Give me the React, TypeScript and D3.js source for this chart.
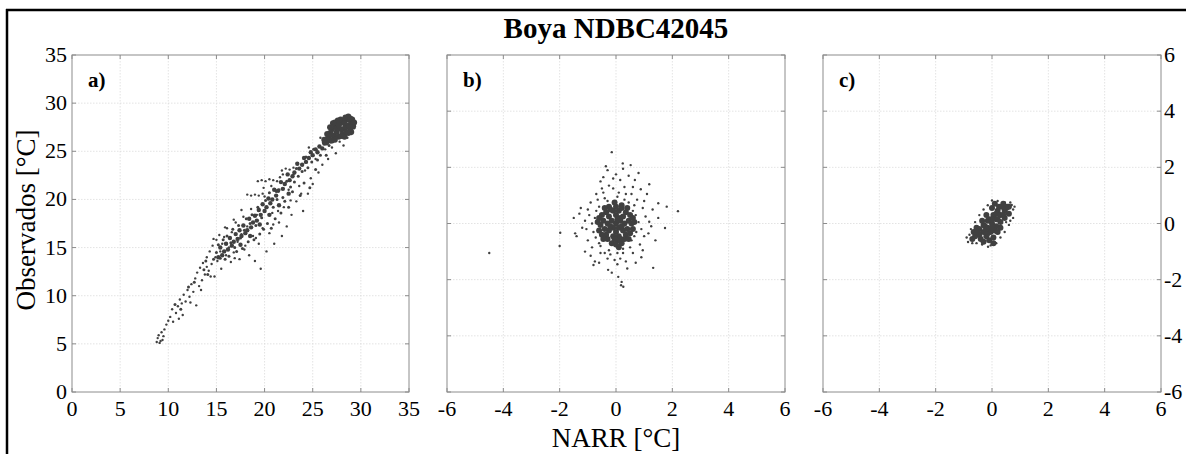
import React from "react";
import * as d3 from "d3";

const title = "Boya NDBC42045";
const xLabel = "NARR [°C]";
const yLabel = "Observados [°C]";
const panelLabels = ["a)", "b)", "c)"];
const ticksA = [0, 5, 10, 15, 20, 25, 30, 35];
const ticksBC = [-6, -4, -2, 0, 2, 4, 6];

const sparseA: [number, number][] = [
  [8.8,5.2],[8.9,5.6],[9.0,5.9],[9.2,5.3],[9.4,5.4],[9.5,5.8],[9.1,5.1],[9.3,6.2],[9.6,6.5],[9.8,7.0],[10.0,7.4],[10.2,7.8],[10.5,7.3],[10.4,8.6],[10.8,8.2],[11.0,8.9],[11.2,9.6],[11.5,8.0],[11.4,9.2],[11.6,10.1],[11.8,9.4],[12.0,10.6],[12.2,9.9],[12.4,11.2],[12.6,10.4],[12.8,11.8],[12.9,9.0],[13.0,12.4],[13.2,11.0],[13.3,12.9],[13.5,11.6],[13.6,13.4],[13.8,12.2],[14.0,13.0],[14.0,14.0],[14.2,12.6],[14.3,14.6],[14.5,13.3],[14.6,15.2],[14.8,12.0],[14.9,14.0],[15.0,15.8],[15.1,13.6],[15.3,16.3],[15.4,14.6],[15.5,12.8],[15.6,15.4],[15.8,16.1],[16.0,14.2],[16.1,17.0],[16.3,15.0],[16.5,13.5],[16.6,16.6],[16.8,14.5],[17.0,17.6],[17.2,15.6],[17.4,13.8],[17.6,16.4],[17.8,18.2],[18.0,15.2],[18.2,17.2],[18.4,14.2],[18.6,19.0],[18.8,16.2],[19.0,13.6],[19.2,18.4],[19.4,15.4],[19.6,12.8],[19.8,17.0],[20.0,20.3],[20.2,14.6],[20.5,16.5],[20.8,18.6],[21.0,15.4],[21.2,20.8],[21.5,17.6],[21.8,16.2],[22.0,19.2],[22.3,17.2],[22.5,21.0],[22.8,18.4],[23.0,22.6],[23.3,19.8],[23.6,21.4],[24.0,18.8],[24.2,23.0],[24.5,20.6],[24.8,22.2],[25.0,21.6],[25.3,24.2],[25.6,22.8],[26.0,23.6],[26.3,25.2],[26.6,24.2],[27.0,25.4],[27.4,24.8],[27.8,26.0],[28.2,25.6],[28.6,26.4],[29.0,26.8],[29.3,27.4],
  [18.2,20.5],[18.6,20.4],[19.0,20.5],[19.4,20.4],[19.8,20.6],[19.3,21.9],[19.7,22.0],[20.1,21.9],[20.5,22.1],[20.9,22.0],[21.3,21.9],[21.6,22.3],[21.9,22.6],[21.8,23.0],[22.2,23.2],[22.6,23.1],[23.0,23.3],[16.9,13.9],[17.9,14.8],[19.1,16.0],[20.9,17.4],[21.4,18.8],[23.8,20.6],[22.7,19.9],[14.4,12.0],[13.4,10.6],[12.3,9.3],[11.1,7.6],[15.9,17.1],[14.7,15.9],[16.8,17.9],[17.6,18.9],[19.9,21.2],[20.7,21.4],[24.6,25.4],[25.8,26.4],[26.9,27.6]
];

const midA: [number, number][] = [
  [15.0,14.5],[15.2,15.3],[15.4,13.9],[15.7,15.8],[15.9,13.8],[16.1,16.2],[16.3,14.1],[16.5,15.5],[16.7,16.9],[16.9,15.0],[17.1,14.6],[17.3,17.3],[17.5,16.0],[17.7,14.9],[17.9,16.8],[18.1,18.0],[18.3,15.6],[18.5,17.5],[18.7,18.4],[18.9,15.8],[19.1,17.3],[19.3,19.2],[19.5,16.4],[19.7,18.1],[19.9,16.9],[20.1,19.9],[20.3,17.5],[20.5,20.7],[20.7,17.0],[20.9,19.2],[21.1,18.0],[21.3,20.0],[21.5,21.0],[21.7,18.6],[21.9,20.2],[22.1,19.8],[22.3,21.9],[22.5,19.2],[22.7,21.3],[22.9,20.8],[23.1,21.8],[23.3,23.2],[23.5,22.4],[23.7,20.4],[23.9,22.9],[24.1,21.7],[24.3,24.4],[24.5,23.3],[24.7,21.2],[24.9,23.9],[25.1,25.2],[25.3,23.1],[25.5,24.1],[25.8,24.6],[26.1,25.9],[26.4,24.6],[26.7,25.6],[27.1,26.0],[13.9,13.6],[14.1,12.2],[14.7,13.8],[13.7,12.7],[12.7,11.4],[12.1,10.9],[11.3,8.6],[10.7,9.1]
];

const topA: [number, number][] = [
  [26.6,26.4],[26.8,26.9],[27.0,27.3],[27.2,26.6],[27.4,27.6],[27.5,27.0],[27.7,26.5],[27.8,27.9],[28.0,27.3],[28.1,26.8],[28.2,28.1],[28.4,27.5],[28.5,27.0],[28.6,28.3],[28.8,27.7],[28.9,27.2],[29.0,28.0],[29.2,27.6],[27.3,28.0],[27.9,28.3],[26.9,26.1],[26.4,25.9],[28.3,26.5],[29.1,28.3],[28.7,28.6],[27.6,27.4],
  [26.2,26.2],[26.5,26.8],[27.1,27.9],[27.6,28.2],[28.4,28.5],[29.0,27.0],[28.0,26.6],[27.3,26.2],[28.7,26.9],[27.0,26.7],[27.7,27.7],[28.3,27.9],[28.9,28.4],[29.3,28.0],[26.8,27.5]
];

const coreA: [number, number][] = [
  [26.2,25.8],[26.0,25.3],[25.7,25.5],[25.5,24.9],[25.3,25.2],[25.0,24.6],[24.8,24.9],[24.6,24.3],[24.3,23.9],[24.1,24.3],[23.9,23.6],[23.6,23.2],[23.4,23.7],[23.1,22.8],[22.9,22.4],[22.6,22.0],[22.4,22.6],[22.1,21.6],[21.9,21.1],[21.7,21.8],[21.4,20.9],[21.2,20.4],[21.0,21.0],
  [20.8,20.0],[20.6,19.6],[20.4,20.1],[20.2,19.2],[20.0,18.8],[19.8,19.5],[19.6,18.4],[19.4,18.9],[19.2,17.8],[19.0,18.3],[18.8,17.6],[18.6,17.1],[18.4,18.0],[18.2,16.8],[18.0,16.5],[17.8,17.3],[17.6,16.2],[17.4,16.8],[17.2,15.9],[17.0,16.4],[16.8,15.6],[16.6,15.2],[16.4,16.0],[16.2,14.8],[16.0,15.4],[15.8,14.6],[15.6,14.2],[15.4,15.0],[15.2,14.0],[19.5,17.4],[20.5,18.4],[21.5,19.4],[22.5,20.6],[18.5,16.2],[17.5,15.3]
];

const sparseB: [number, number][] = [
  [-4.5,-1.05],[-2.0,-0.8],[-1.98,-0.33],[-1.25,0.55],[-1.4,-0.45],[-1.45,-0.35],[-1.1,0.1],[-1.05,-0.2],[-0.8,-1.48],[-0.75,-1.35],[-0.28,-1.65],[0.08,-1.9],[0.2,-2.08],[0.26,-2.25],[0.18,-2.2],[-0.15,2.54],[0.24,2.14],[0.52,2.08],[-0.36,2.04],[-0.45,1.65],[-0.1,1.6],[0.0,1.75],[0.67,1.55],[1.18,1.4],[0.88,1.22],[1.1,1.05],[1.5,0.72],[1.8,0.6],[2.2,0.44],[1.5,0.2],[1.74,-0.16],[1.18,0.06],[1.32,-1.58],[0.9,-1.2],[-0.9,0.75],[-0.7,1.05],[-0.5,1.25],[-0.25,1.35],[0.3,1.3],[0.55,1.05],[0.75,0.85],[0.95,0.55],[1.05,0.25],[1.25,-0.1],[1.0,-0.45],[0.85,-0.75],[0.6,-1.05],[0.35,-1.35],[0.05,-1.45],[-0.3,-1.25],[-0.55,-1.05],[-0.85,-0.85],[-1.0,-0.6],[-1.2,-0.15],[-0.95,0.3],[-0.15,-1.75],[0.4,-1.6],[0.7,-1.4],[-0.6,-1.4],[-1.1,-1.0],[1.3,0.5],[-0.65,0.85],[0.15,1.55],[0.45,1.7],[-0.3,1.9],[0.9,-0.2],[0.65,0.65],[-0.7,0.45],[-0.8,-0.3],[-0.6,-0.7],[0.55,-0.6],[0.25,-0.9],[-0.25,-0.95],[0.1,1.1],[-0.4,0.9],[0.45,0.75],
  [0.7,0.3],[-0.75,0.2],[0.72,-0.3],[-0.72,-0.5],[0.3,0.85],[-0.3,0.8],[0.25,-1.05],[-0.2,-1.1],[0.8,0.05],[-0.85,0.0],[0.6,0.45],[-0.6,0.6],[0.65,-0.45],[-0.55,-0.8],[0.05,0.95],[0.05,-1.05],[-0.1,1.25],[0.35,1.05],[-0.45,1.1],[1.0,0.8],[-1.0,0.5],[0.95,-0.95],[-0.9,-1.15],[0.15,-1.25],[-0.05,-1.3],[0.5,-0.85],[-0.4,-1.05],[1.15,-0.35],[-1.3,0.35],[0.6,1.3],[-0.55,1.5],[0.8,1.8],[1.4,-0.6],[-1.5,0.2],[0.25,1.95]
];

const coreB: [number, number][] = [
  [0,0],[0.15,0.1],[-0.15,0.1],[0.1,-0.15],[-0.1,-0.15],[0.3,0],[-0.3,0],[0,0.3],[0,-0.3],[0.25,0.25],[-0.25,0.25],[0.25,-0.25],[-0.25,-0.25],[0.45,0.1],[-0.45,0.1],[0.4,-0.2],[-0.4,-0.2],[0.1,0.45],[-0.1,0.45],[0.1,-0.45],[-0.1,-0.45],[0.35,0.4],[-0.35,0.4],[0.35,-0.4],[-0.35,-0.4],[0.55,0],[-0.55,-0.05],[0.0,0.6],[0.05,-0.6],[0.2,-0.7],[-0.15,-0.7],[0.1,-0.85],[-0.05,0.75],[0.2,0.65],[-0.25,0.6],[0.5,0.3],[-0.5,0.3],[0.5,-0.35],[-0.5,-0.4],
  [0.6,0.2],[-0.6,0.2],[0.6,-0.2],[-0.6,-0.25],[0.2,0.55],[-0.2,0.5],[0.3,-0.55],[-0.3,-0.55],[0.15,0.2],[-0.2,-0.1],[0.05,0.15],[0.2,-0.1],[-0.05,-0.55],[0.0,-0.75],[0.15,-0.55],[-0.65,0.05],[0.65,0.05],[0.4,0.55],[-0.4,0.55],[0.45,-0.55],[-0.45,-0.55]
];

const sparseC: [number, number][] = [
  [0,0.82],[0.7,0.66],[0.75,0.5],[0.65,0.75],[-0.85,-0.66],[-0.14,-0.83],[-0.8,-0.4],[-0.75,-0.2],[-0.6,0.05],[-0.45,0.3],[-0.3,0.5],[-0.15,0.65],[0.2,0.8],[0.45,0.75],[0.75,0.2],[0.6,-0.05],[0.45,-0.3],[0.3,-0.5],[0.15,-0.7],[-0.05,-0.78],[-0.35,-0.75],[-0.55,-0.7],[-0.7,-0.7],[0.8,0.6],[-0.9,-0.5],[0.5,0.05],[-0.25,-0.65],[0.65,0.1]
];

const coreC: [number, number][] = [
  [0,0],[0.15,0.15],[-0.15,-0.15],[0.3,0.3],[-0.3,-0.3],[0.45,0.45],[-0.45,-0.4],[0.15,-0.1],[-0.15,0.1],[0.3,0.05],[-0.3,-0.05],[0.05,0.3],[-0.05,-0.3],[0.45,0.2],[-0.45,-0.2],[0.2,0.45],[-0.2,-0.45],[0.55,0.6],[-0.6,-0.45],[0.35,0.6],[0.0,0.55],[-0.2,0.3],[0.2,-0.3],[-0.55,-0.15],[-0.1,-0.6],[0.05,-0.5],[0.6,0.35],[0.1,0.7],[-0.7,-0.55],[0.3,-0.15],[-0.35,0.1],[-0.1,0.15],[0.1,-0.25],
  [0.25,0.6],[0.4,0.3],[-0.25,-0.1],[-0.4,-0.55],[0.5,0.55],[-0.5,-0.3],[0.15,0.35],[-0.15,-0.35],[0.0,-0.15],[0.0,0.15],[0.4,0.7],[-0.3,-0.65],[0.6,0.6],[0.2,0.15],[-0.2,-0.2],[-0.65,-0.3],[0.05,-0.7]
];

const FONT = "'Liberation Serif', 'Times New Roman', serif";
const TOP = 55;
const BOTTOM = 392;
const panels = [
  { left: 72, right: 409, domain: [0, 35], ticks: ticksA, sparse: sparseA, mid: midA, core: coreA, top: topA, yAxis: "left" },
  { left: 447, right: 785, domain: [-6, 6], ticks: ticksBC, sparse: sparseB, mid: [], core: [], top: coreB, yAxis: "none" },
  { left: 823, right: 1161, domain: [-6, 6], ticks: ticksBC, sparse: sparseC, mid: [], core: [], top: coreC, yAxis: "right" },
];

function Panel({ p, label }: { p: any; label: string }) {
  const x = d3.scaleLinear().domain(p.domain).range([p.left, p.right]);
  const y = d3.scaleLinear().domain(p.domain).range([BOTTOM, TOP]);
  const tl = 4;
  const fs = 22;
  return (
    <g>
      {p.ticks.map((t: number, i: number) => (
        <g key={"g" + i}>
          {i > 0 && i < p.ticks.length - 1 && (
            <>
              <line x1={x(t)} x2={x(t)} y1={TOP} y2={BOTTOM} stroke="#dcdcdc" strokeWidth={0.8} strokeDasharray="1.5,1.5" />
              <line x1={p.left} x2={p.right} y1={y(t)} y2={y(t)} stroke="#dcdcdc" strokeWidth={0.8} strokeDasharray="1.5,1.5" />
            </>
          )}
        </g>
      ))}
      {p.sparse.map((d: [number, number], i: number) => (
        <circle key={"s" + i} cx={x(d[0])} cy={y(d[1])} r={1.2} fill="#404040" />
      ))}
      {p.mid.map((d: [number, number], i: number) => (
        <circle key={"m" + i} cx={x(d[0])} cy={y(d[1])} r={1.5} fill="#404040" />
      ))}
      {p.core.map((d: [number, number], i: number) => (
        <circle key={"c" + i} cx={x(d[0])} cy={y(d[1])} r={2.2} fill="#404040" />
      ))}
      {p.top.map((d: [number, number], i: number) => (
        <circle key={"k" + i} cx={x(d[0])} cy={y(d[1])} r={3} fill="#404040" />
      ))}
      <rect x={p.left} y={TOP} width={p.right - p.left} height={BOTTOM - TOP} fill="none" stroke="#8c8c8c" strokeWidth={1} />
      {p.ticks.map((t: number, i: number) => (
        <g key={"t" + i} stroke="#8c8c8c" strokeWidth={1}>
          <line x1={x(t)} x2={x(t)} y1={BOTTOM} y2={BOTTOM - tl} />
          <line x1={x(t)} x2={x(t)} y1={TOP} y2={TOP + tl} />
          <line x1={p.left} x2={p.left + tl} y1={y(t)} y2={y(t)} />
          <line x1={p.right} x2={p.right - tl} y1={y(t)} y2={y(t)} />
        </g>
      ))}
      {p.ticks.map((t: number, i: number) => (
        <text key={"xl" + i} x={x(t)} y={BOTTOM + 24} textAnchor="middle" fontSize={fs} fontFamily={FONT} fill="#000">
          {t}
        </text>
      ))}
      {p.yAxis === "left" &&
        p.ticks.map((t: number, i: number) => (
          <text key={"yl" + i} x={p.left - 5} y={y(t) + 7} textAnchor="end" fontSize={fs} fontFamily={FONT} fill="#000">
            {t}
          </text>
        ))}
      {p.yAxis === "right" &&
        p.ticks.map((t: number, i: number) => (
          <text key={"yr" + i} x={p.right + 3} y={y(t) + 7} textAnchor="start" fontSize={fs} fontFamily={FONT} fill="#000">
            {t}
          </text>
        ))}
      <text x={p.left + 16} y={TOP + 32} fontSize={21} fontWeight="bold" fontFamily={FONT} fill="#000">
        {label}
      </text>
    </g>
  );
}

export default function App() {
  return (
    <svg width={1186} height={454} style={{ position: "absolute", left: 0, top: 0, background: "#fff" }}>
      <rect x={0} y={0} width={1186} height={454} fill="#fff" />
      <line x1={6} x2={1186} y1={10} y2={10} stroke="#000" strokeWidth={2.5} />
      <line x1={7} x2={7} y1={9} y2={454} stroke="#000" strokeWidth={2.5} />
      <text x={616} y={38} textAnchor="middle" fontSize={29} fontWeight="bold" fontFamily={FONT} fill="#000">
        {title}
      </text>
      {panels.map((p, i) => (
        <Panel key={i} p={p} label={panelLabels[i]} />
      ))}
      <text x={616} y={447} textAnchor="middle" fontSize={27} fontFamily={FONT} fill="#000">
        {xLabel}
      </text>
      <text transform="translate(35,220) rotate(-90)" textAnchor="middle" fontSize={27} fontFamily={FONT} fill="#000">
        {yLabel}
      </text>
    </svg>
  );
}
